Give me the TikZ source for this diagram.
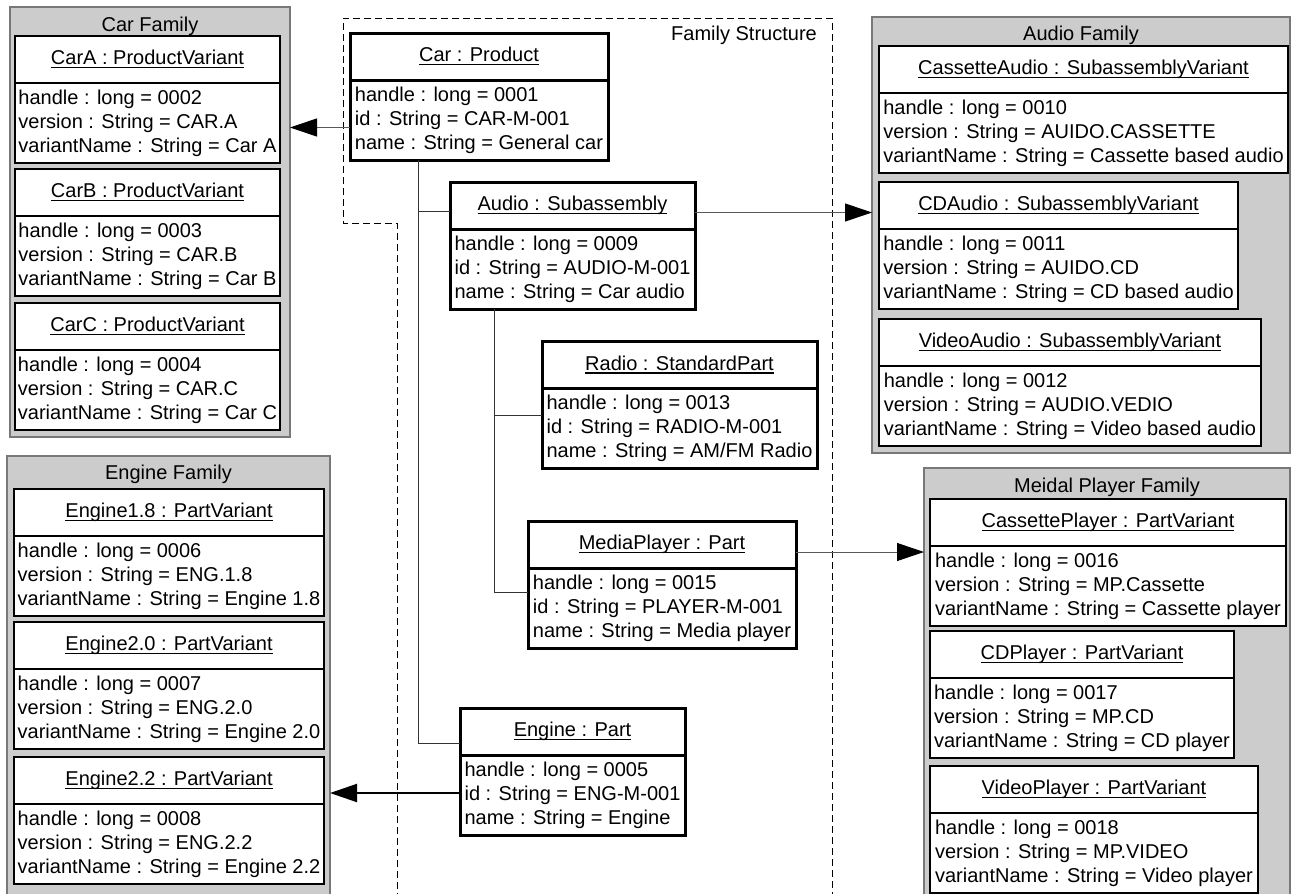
\documentclass[tikz,border=0pt]{standalone}
\usepackage{fontspec}
\setmainfont{Liberation Sans}
\usetikzlibrary{positioning,arrows.meta}
\definecolor{famgray}{RGB}{204,204,204}
\definecolor{famedge}{RGB}{120,120,120}
\newsavebox{\objbox}
\newcommand{\objname}[1]{\sbox{\objbox}{#1}\rlap{\rule[-3.5pt]{\wd\objbox}{1.3pt}}\usebox{\objbox}}

\begin{document}
\begin{tikzpicture}[x=1pt,y=-1pt,font=\fontsize{20}{24}\selectfont,
  obj/.style={draw,fill=white,inner xsep=2pt,inner ysep=0pt,outer sep=0pt},
  prodline/.style={line width=3pt},
  varline/.style={line width=2pt},
  objhead/.style={obj,minimum width=#1,minimum height=47pt,anchor=north west},
  objattrs/.style={obj,minimum width=#1,minimum height=80pt,align=left},
  famebox/.style={draw=famedge,fill=famgray,line width=1.5pt,inner sep=0pt,outer sep=0pt,anchor=north west},
  varlink/.style={draw=black!65,line width=1pt,-{Triangle[length=27pt,width=18pt,color=black]}},
  treeline/.style={draw=black!80,line width=1pt},
  structline/.style={dash pattern=on 7pt off 4pt,line width=1pt}]
  \useasboundingbox (0,0) rectangle (1291,894);
  \clip (0,0) rectangle (1291,894);

  % variant families
  \node[famebox,minimum width=280pt,minimum height=430pt] (carFam)    at (10,7)    {};
  \node[famebox,minimum width=323pt,minimum height=444pt] (engineFam) at (7,456)   {};
  \node[famebox,minimum width=418pt,minimum height=436pt] (audioFam)  at (872,17)  {};
  \node[famebox,minimum width=366pt,minimum height=432pt] (playerFam) at (924,468) {};
  \node (carFamTitle)    at ([yshift=-19pt]carFam.north)    {Car Family};
  \node (engineFamTitle) at ([yshift=-18pt]engineFam.north) {Engine Family};
  \node (audioFamTitle)  at ([yshift=-18pt]audioFam.north)  {Audio Family};
  \node (playerFamTitle) at ([yshift=-19pt]playerFam.north) {Meidal Player Family};

  % car variants
  \node[objhead=265,varline]  (carAHead) at (15,36) {\objname{CarA : ProductVariant}};
  \node[objattrs=265,varline] (carAAttr) [below=0pt of carAHead] {handle : long = 0002\\version : String = CAR.A\\variantName : String = Car A};
  \node[objhead=265,varline]  (carBHead) at (15,169) {\objname{CarB : ProductVariant}};
  \node[objattrs=265,varline] (carBAttr) [below=0pt of carBHead] {handle : long = 0003\\version : String = CAR.B\\variantName : String = Car B};
  \node[objhead=265,varline]  (carCHead) at (15,303) {\objname{CarC : ProductVariant}};
  \node[objattrs=265,varline] (carCAttr) [below=0pt of carCHead] {handle : long = 0004\\version : String = CAR.C\\variantName : String = Car C};

  % engine variants
  \node[objhead=310,varline]  (eng18Head) at (14,489) {\objname{Engine1.8 : PartVariant}};
  \node[objattrs=310,varline] (eng18Attr) [below=0pt of eng18Head] {handle : long = 0006\\version : String = ENG.1.8\\variantName : String = Engine 1.8};
  \node[objhead=310,varline]  (eng20Head) at (14,622) {\objname{Engine2.0 : PartVariant}};
  \node[objattrs=310,varline] (eng20Attr) [below=0pt of eng20Head] {handle : long = 0007\\version : String = ENG.2.0\\variantName : String = Engine 2.0};
  \node[objhead=310,varline]  (eng22Head) at (14,757) {\objname{Engine2.2 : PartVariant}};
  \node[objattrs=310,varline] (eng22Attr) [below=0pt of eng22Head] {handle : long = 0008\\version : String = ENG.2.2\\variantName : String = Engine 2.2};

  % audio variants
  \node[objhead=409,varline]  (cassAudioHead) at (879,46) {\objname{CassetteAudio : SubassemblyVariant}};
  \node[objattrs=409,varline] (cassAudioAttr) [below=0pt of cassAudioHead] {handle : long = 0010\\version : String = AUIDO.CASSETTE\\variantName : String = Cassette based audio};
  \node[objhead=359,varline]  (cdAudioHead) at (879,182) {\objname{CDAudio : SubassemblyVariant}};
  \node[objattrs=359,varline] (cdAudioAttr) [below=0pt of cdAudioHead] {handle : long = 0011\\version : String = AUIDO.CD\\variantName : String = CD based audio};
  \node[objhead=382,varline]  (videoAudioHead) at (879,319) {\objname{VideoAudio : SubassemblyVariant}};
  \node[objattrs=382,varline] (videoAudioAttr) [below=0pt of videoAudioHead] {handle : long = 0012\\version : String = AUDIO.VEDIO\\variantName : String = Video based audio};

  % player variants
  \node[objhead=356,varline]  (cassPlayerHead) at (930,499) {\objname{CassettePlayer : PartVariant}};
  \node[objattrs=356,varline] (cassPlayerAttr) [below=0pt of cassPlayerHead] {handle : long = 0016\\version : String = MP.Cassette\\variantName : String = Cassette player};
  \node[objhead=304,varline]  (cdPlayerHead) at (930,631) {\objname{CDPlayer : PartVariant}};
  \node[objattrs=304,varline] (cdPlayerAttr) [below=0pt of cdPlayerHead] {handle : long = 0017\\version : String = MP.CD\\variantName : String = CD player};
  \node[objhead=328,varline]  (videoPlayerHead) at (930,766) {\objname{VideoPlayer : PartVariant}};
  \node[objattrs=328,varline] (videoPlayerAttr) [below=0pt of videoPlayerHead] {handle : long = 0018\\version : String = MP.VIDEO\\variantName : String = Video player};

  % family structure
  \draw[structline] (397,900) -- (397,223) -- (343,223) -- (343,18) -- (832,18) -- (832,900);
  \node[anchor=east,inner sep=0pt] (fsLabel) at (817,35) {Family Structure};

  \node[objhead=258,prodline]  (carHead) at (350,33) {\objname{Car : Product}};
  \node[objattrs=258,prodline] (carAttr) [below=0pt of carHead] {handle : long = 0001\\id : String = CAR-M-001\\name : String = General car};
  \node[objhead=245,prodline]  (audioHead) at (450,182) {\objname{Audio : Subassembly}};
  \node[objattrs=245,prodline] (audioAttr) [below=0pt of audioHead] {handle : long = 0009\\id : String = AUDIO-M-001\\name : String = Car audio};
  \node[objhead=275,prodline]  (radioHead) at (542,341) {\objname{Radio : StandardPart}};
  \node[objattrs=275,prodline] (radioAttr) [below=0pt of radioHead] {handle : long = 0013\\id : String = RADIO-M-001\\name : String = AM/FM Radio};
  \node[objhead=268,prodline]  (mediaHead) at (528,521) {\objname{MediaPlayer : Part}};
  \node[objattrs=268,prodline] (mediaAttr) [below=0pt of mediaHead] {handle : long = 0015\\id : String = PLAYER-M-001\\name : String = Media player};
  \node[objhead=225,prodline]  (engineHead) at (460,708) {\objname{Engine : Part}};
  \node[objattrs=225,prodline] (engineAttr) [below=0pt of engineHead] {handle : long = 0005\\id : String = ENG-M-001\\name : String = Engine};

  % composition tree
  \draw[treeline] ([xshift=68pt]carAttr.south west) |- ([yshift=-11.5pt]engineHead.west);
  \draw[treeline] ([xshift=68pt]carAttr.south west) |- ([yshift=-6pt]audioHead.west);
  \draw[treeline] ([xshift=44pt]audioAttr.south west) |- ([yshift=16pt]mediaAttr.west);
  \draw[treeline] ([xshift=44pt]audioAttr.south west) |- ([yshift=12.5pt]radioAttr.west);

  % links to variant families
  \draw[varlink] ([yshift=-7.5pt]carAttr.west) -- ([yshift=-7.5pt]carAttr.west -| carFam.east);
  \draw[varlink] ([yshift=-7pt]audioHead.east) -- ([yshift=-7pt]audioHead.east -| audioFam.west);
  \draw[varlink] ([yshift=-7.5pt]mediaHead.east) -- ([yshift=-7.5pt]mediaHead.east -| playerFam.west);
  \draw[varlink,draw=black,line width=2pt] ([yshift=2pt]engineAttr.west) -- ([yshift=2pt]engineAttr.west -| engineFam.east);
\end{tikzpicture}
\end{document}
